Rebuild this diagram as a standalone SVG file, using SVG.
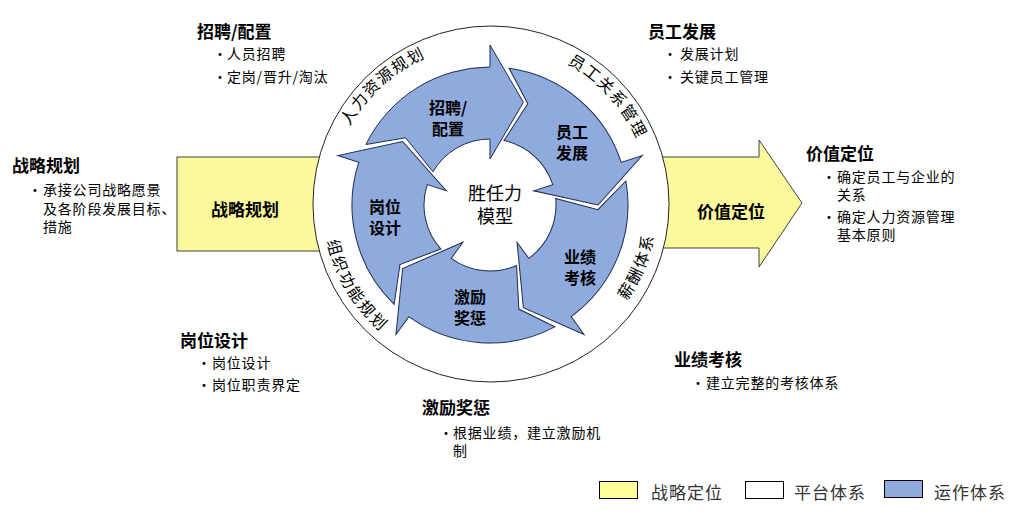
<svg xmlns="http://www.w3.org/2000/svg" xmlns:xlink="http://www.w3.org/1999/xlink" width="1028" height="514" viewBox="0 0 1028 514">
<style>
text{font-family:"Noto Sans CJK SC","Noto Sans",sans-serif;fill:#000}
.h{font-size:17px;font-weight:700}
.b{font-size:14px;letter-spacing:0.8px}
.dot{font-size:14px}
.lab{font-size:16px;font-weight:700;text-anchor:middle;dominant-baseline:central}
.ctr{font-size:18px;text-anchor:middle;dominant-baseline:central}
.arcU{font-size:16px;letter-spacing:1.5px}
.arcL{font-size:16px;letter-spacing:2px}
.leg{font-size:17px;fill:#333;letter-spacing:1px;dominant-baseline:central}
.yel{fill:#FCF89C;stroke:#404040;stroke-width:1}
.seg{fill:#8FAADC;stroke:#1F2D4F;stroke-width:1;stroke-linejoin:miter}
</style>
<defs>
<path id="seg" d="M -124.06 -60.46 A 138 138 0 0 1 0 -138 L 0 -160 L 33.37 -102.71 L 0 -46 L 0 -66 A 66 66 0 0 0 -57.0 -33.27 L -84.52 -67.23 Z"/>
<path id="pU1" d="M 332.5 238.5 A 161 161 0 0 1 539.7 51.9" fill="none"/>
<path id="pU2" d="M 454.9 47.9 A 161 161 0 0 1 643.6 253.1" fill="none"/>
<path id="pL1" d="M 511.2 370.6 A 167 167 0 0 0 622.8 103.8" fill="none"/>
<path id="pL2" d="M 343.8 124.3 A 167 167 0 0 0 493.2 372.0" fill="none"/>
</defs>

<g id="strategy">
<rect class="yel" x="177" y="157" width="250" height="94"/>
<text class="lab" x="245" y="208" style="font-size:17px">战略规划</text>
</g>
<g id="value">
<polygon class="yel" points="600,157 759,157 759,140 802,203 759,267 759,248 600,248"/>
<text class="lab" x="731" y="210" style="font-size:17px">价值定位</text>
</g>

<g id="platform">
<circle cx="491" cy="204" r="178" fill="#fff" stroke="#222" stroke-width="1"/>
<text class="arcU"><textPath href="#pU1" startOffset="50%" text-anchor="middle">人力资源规划</textPath></text>
<text class="arcU"><textPath href="#pU2" startOffset="50%" text-anchor="middle">员工关系管理</textPath></text>
<text class="arcL"><textPath href="#pL1" startOffset="50%" text-anchor="middle">薪酬体系</textPath></text>
<text class="arcL"><textPath href="#pL2" startOffset="50%" text-anchor="middle">组织功能规划</textPath></text>
</g>

<g id="connectors">
<use href="#seg" class="seg" transform="translate(490 205) rotate(0)"/>
<use href="#seg" class="seg" transform="translate(490 205) rotate(72)"/>
<use href="#seg" class="seg" transform="translate(490 205) rotate(144)"/>
<use href="#seg" class="seg" transform="translate(490 205) rotate(216)"/>
<use href="#seg" class="seg" transform="translate(490 205) rotate(288)"/>
</g>

<g id="n-recruit"><text class="lab" x="448" y="107">招聘/<tspan x="448" dy="21">配置</tspan></text></g>
<g id="n-develop"><text class="lab" x="572" y="131">员工<tspan x="572" dy="21">发展</tspan></text></g>
<g id="n-perf"><text class="lab" x="580" y="256">业绩<tspan x="580" dy="21">考核</tspan></text></g>
<g id="n-reward"><text class="lab" x="470" y="296">激励<tspan x="470" dy="21">奖惩</tspan></text></g>
<g id="n-post"><text class="lab" x="385" y="206">岗位<tspan x="385" dy="21">设计</tspan></text></g>
<g id="n-core"><text class="ctr" x="495" y="192">胜任力<tspan x="495" dy="23">模型</tspan></text></g>

<g id="t-recruit">
<text class="h" x="197" y="38">招聘/配置</text>
<text class="dot" x="213" y="59">•</text><text class="b" x="227" y="59">人员招聘</text>
<text class="dot" x="213" y="82">•</text><text class="b" x="227" y="82">定岗/晋升/淘汰</text>
</g>
<g id="t-develop">
<text class="h" x="648" y="38">员工发展</text>
<text class="dot" x="663" y="59">•</text><text class="b" x="680" y="59">发展计划</text>
<text class="dot" x="663" y="82">•</text><text class="b" x="680" y="82">关键员工管理</text>
</g>
<g id="t-strategy">
<text class="h" x="12" y="172">战略规划</text>
<text class="dot" x="28" y="195">•</text>
<text class="b" x="43" y="195">承接公司战略愿景<tspan x="43" dy="19">及各阶段发展目标、</tspan><tspan x="43" dy="18">措施</tspan></text>
</g>
<g id="t-value">
<text class="h" x="806" y="160">价值定位</text>
<text class="dot" x="822" y="182">•</text><text class="b" x="837" y="182">确定员工与企业的<tspan x="837" dy="18">关系</tspan></text>
<text class="dot" x="822" y="222">•</text><text class="b" x="837" y="222">确定人力资源管理<tspan x="837" dy="18">基本原则</tspan></text>
</g>
<g id="t-post">
<text class="h" x="180" y="347">岗位设计</text>
<text class="dot" x="197" y="368">•</text><text class="b" x="212" y="368">岗位设计</text>
<text class="dot" x="197" y="390">•</text><text class="b" x="212" y="390">岗位职责界定</text>
</g>
<g id="t-perf">
<text class="h" x="674" y="366">业绩考核</text>
<text class="dot" x="691" y="388">•</text><text class="b" x="706" y="388">建立完整的考核体系</text>
</g>
<g id="t-reward">
<text class="h" x="422" y="414">激励奖惩</text>
<text class="dot" x="439" y="438">•</text><text class="b" x="453" y="438">根据业绩，建立激励机<tspan x="453" dy="18">制</tspan></text>
</g>

<g id="legend">
<rect x="599.5" y="481.5" width="38" height="17" fill="#FFFF99" stroke="#000"/>
<text class="leg" x="651" y="491">战略定位</text>
<rect x="745.5" y="481.5" width="38" height="17" fill="#fff" stroke="#000"/>
<text class="leg" x="794" y="491">平台体系</text>
<rect x="884.5" y="480.5" width="38" height="17" fill="#8FAADC" stroke="#000"/>
<text class="leg" x="934" y="491">运作体系</text>
</g>
</svg>
